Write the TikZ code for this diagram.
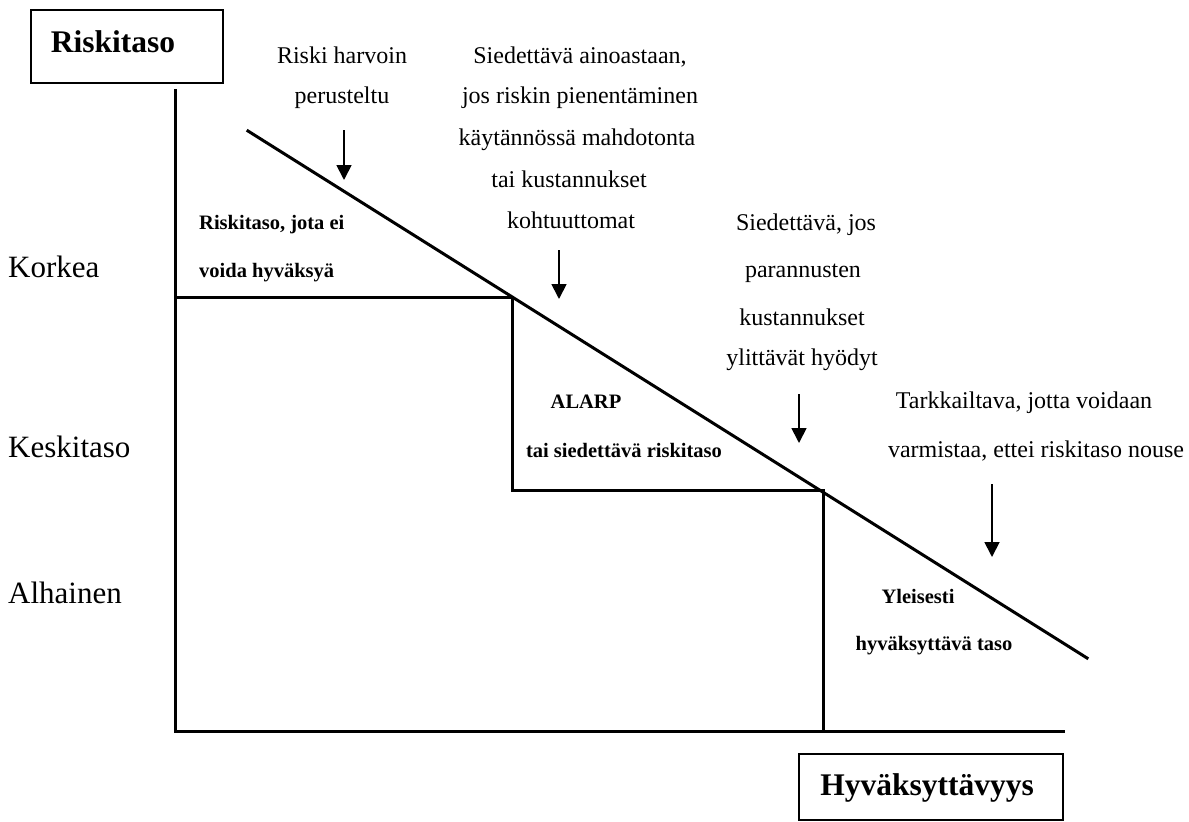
\documentclass[tikz,border=0pt]{standalone}
\usepackage{fontspec}
\setmainfont{Liberation Serif}
\usetikzlibrary{arrows.meta}
\tikzset{
  mainline/.style={line width=3pt, line cap=rect},
  hdrbox/.style={draw, line width=1.6pt},
  note/.style={anchor=base, inner sep=0pt, font=\fontsize{24}{24}\selectfont},
  axislbl/.style={anchor=base west, inner sep=0pt, font=\fontsize{31}{31}\selectfont},
  zonelbl/.style={anchor=base, inner sep=0pt, font=\fontsize{20.5}{20.5}\selectfont\bfseries},
  zonelblw/.style={anchor=base west, inner sep=0pt, font=\fontsize{20.5}{20.5}\selectfont\bfseries},
  hdr/.style={anchor=base, inner sep=0pt, font=\fontsize{31.5}{31.5}\selectfont\bfseries},
  pointer/.style={line width=1.8pt, -{Triangle[width=15pt,length=15pt]}}
}
\begin{document}
\begin{tikzpicture}[x=1pt,y=-1pt]
\useasboundingbox (0,0) rectangle (1189,822);

% header boxes
\draw[hdrbox] (31,10) rectangle (223,83);
\node[hdr] (riskitaso) at (113,52) {Riskitaso};
\draw[hdrbox] (799,754) rectangle (1063,820);
\node[hdr] (hyvak) at (927,795) {Hyväksyttävyys};

% axes and steps
\coordinate (ytop) at (175,90);
\coordinate (orig) at (175,731);
\coordinate (xend) at (1063,731);
\coordinate (s1l) at (175,297);
\coordinate (s1r) at (512,297);
\coordinate (s2l) at (512,490);
\coordinate (s2r) at (823,490);
\coordinate (s3b) at (823,731);
\coordinate (dstart) at (248,131);
\coordinate (dend) at (1087,658);

\draw[mainline] (ytop) -- (orig) -- (xend);
\draw[mainline] (s1l) -- (s1r) -- (s2l) -- (s2r) -- (s3b);
\draw[mainline] (dstart) -- (dend);

% axis labels
\node[axislbl] (korkea) at (8,277) {Korkea};
\node[axislbl] (keski) at (8,457) {Keskitaso};
\node[axislbl] (alhainen) at (8,603) {Alhainen};

% zone labels
\node[zonelblw] (z1a) at (199,229) {Riskitaso, jota ei};
\node[zonelblw] (z1b) at (199,277) {voida hyväksyä};
\node[zonelbl] (z2a) at (586,408) {ALARP};
\node[zonelbl] (z2b) at (624,457) {tai siedettävä riskitaso};
\node[zonelbl] (z3a) at (918,603) {Yleisesti};
\node[zonelbl] (z3b) at (934,650) {hyväksyttävä taso};

% notes
\node[note] (n1a) at (342,63) {Riski harvoin};
\node[note] (n1b) at (342,103) {perusteltu};

\node[note] (n2a) at (580,63) {Siedettävä ainoastaan,};
\node[note] (n2b) at (580,103) {jos riskin pienentäminen};
\node[note] (n2c) at (577,145) {käytännössä mahdotonta};
\node[note] (n2d) at (569,187) {tai kustannukset};
\node[note] (n2e) at (571,228) {kohtuuttomat};

\node[note] (n3a) at (806,230) {Siedettävä, jos};
\node[note] (n3b) at (803,277) {parannusten};
\node[note] (n3c) at (802,325) {kustannukset};
\node[note] (n3d) at (802,365) {ylittävät hyödyt};

\node[note] (n4a) at (1024,408) {Tarkkailtava, jotta voidaan};
\node[note] (n4b) at (1036,457) {varmistaa, ettei riskitaso nouse};

% pointer arrows
\coordinate (a1s) at (344,130); \coordinate (a1e) at (344,180);
\coordinate (a2s) at (559,250); \coordinate (a2e) at (559,299);
\coordinate (a3s) at (799,394); \coordinate (a3e) at (799,443);
\coordinate (a4s) at (992,484); \coordinate (a4e) at (992,557);
\draw[pointer] (a1s) -- (a1e);
\draw[pointer] (a2s) -- (a2e);
\draw[pointer] (a3s) -- (a3e);
\draw[pointer] (a4s) -- (a4e);
\end{tikzpicture}
\end{document}
